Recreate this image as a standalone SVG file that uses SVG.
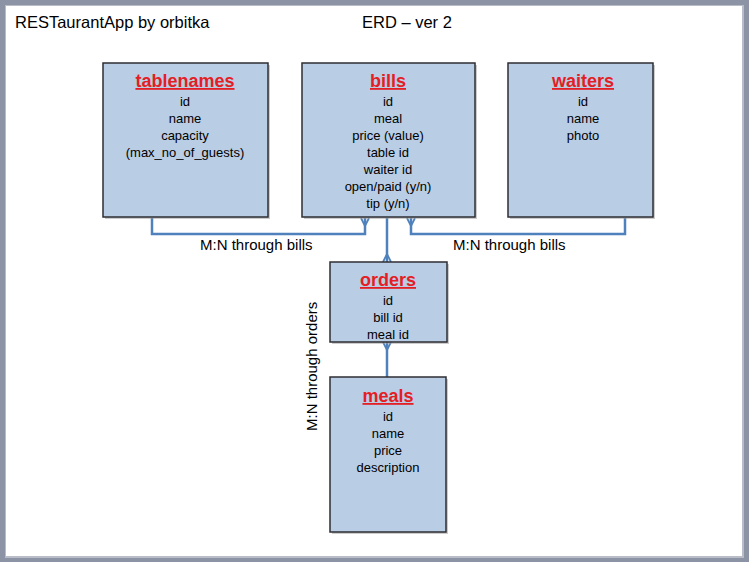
<svg xmlns="http://www.w3.org/2000/svg" width="749" height="562" viewBox="0 0 749 562">
<style>
.box{fill:#b9cde5;stroke:#2e2e33;stroke-width:1.5}
.sh{fill:#9a9a9a;opacity:0.5}
.ttl{font-family:"Liberation Sans",Arial,sans-serif;font-size:18px;font-weight:bold;fill:#e31e24;text-anchor:middle;text-decoration:underline}
.fld{font-family:"Liberation Sans",Arial,sans-serif;font-size:13px;fill:#000;text-anchor:middle}
.hdr{font-family:"Liberation Sans",Arial,sans-serif;font-size:16.5px;fill:#000}
.lbl{font-family:"Liberation Sans",Arial,sans-serif;font-size:15px;fill:#000}
.con{fill:none;stroke:#4f81bd;stroke-width:2.5}
.foot{fill:none;stroke:#4f81bd;stroke-width:1.8}
</style>
<rect x="0" y="0" width="749" height="562" fill="#8b93a5"/>
<rect x="5" y="5" width="739" height="553" fill="#b8bdc8"/>
<rect x="6" y="6" width="736" height="550" fill="#ffffff"/>
<text class="hdr" x="15" y="28">RESTaurantApp by orbitka</text>
<text class="hdr" x="362" y="28">ERD – ver 2</text>

<g id="connectors">
<path class="con" d="M152,218 V234 H365 V218"/>
<path class="foot" d="M361,218 L365,226 L369,218"/>
<path class="con" d="M625,218 V234 H411 V218"/>
<path class="foot" d="M407,218 L411,226 L415,218"/>
<path class="con" d="M387,218 V262"/>
<path class="foot" d="M383,262 L387,254 L391,262"/>
<path class="con" d="M387,342 V377"/>
<path class="foot" d="M383,342 L387,350 L391,342"/>
<text class="lbl" x="200" y="250">M:N through bills</text>
<text class="lbl" x="453" y="250">M:N through bills</text>
<text class="lbl" transform="translate(317,431) rotate(-90)">M:N through orders</text>
</g>

<g id="tablenames">
<rect class="sh" x="105" y="65" width="165" height="154"/>
<rect class="box" x="103" y="63" width="165" height="154"/>
<text class="ttl" x="185" y="87">tablenames</text>
<text class="fld" x="185" y="106">id</text>
<text class="fld" x="185" y="123">name</text>
<text class="fld" x="185" y="140">capacity</text>
<text class="fld" x="185" y="157">(max_no_of_guests)</text>
</g>

<g id="bills">
<rect class="sh" x="304" y="65" width="173" height="154"/>
<rect class="box" x="302" y="63" width="173" height="154"/>
<text class="ttl" x="388" y="87">bills</text>
<text class="fld" x="388" y="106">id</text>
<text class="fld" x="388" y="123">meal</text>
<text class="fld" x="388" y="140">price (value)</text>
<text class="fld" x="388" y="157">table id</text>
<text class="fld" x="388" y="174">waiter id</text>
<text class="fld" x="388" y="191">open/paid (y/n)</text>
<text class="fld" x="388" y="208">tip (y/n)</text>
</g>

<g id="waiters">
<rect class="sh" x="510" y="65" width="145" height="154"/>
<rect class="box" x="508" y="63" width="145" height="154"/>
<text class="ttl" x="583" y="87">waiters</text>
<text class="fld" x="583" y="106">id</text>
<text class="fld" x="583" y="123">name</text>
<text class="fld" x="583" y="140">photo</text>
</g>

<g id="orders">
<rect class="sh" x="332" y="264" width="117" height="80"/>
<rect class="box" x="330" y="262" width="117" height="80"/>
<text class="ttl" x="388" y="286">orders</text>
<text class="fld" x="388" y="305">id</text>
<text class="fld" x="388" y="322">bill id</text>
<text class="fld" x="388" y="339">meal id</text>
</g>

<g id="meals">
<rect class="sh" x="332" y="379" width="116" height="155"/>
<rect class="box" x="330" y="377" width="116" height="155"/>
<text class="ttl" x="388" y="402">meals</text>
<text class="fld" x="388" y="421">id</text>
<text class="fld" x="388" y="438">name</text>
<text class="fld" x="388" y="455">price</text>
<text class="fld" x="388" y="472">description</text>
</g>
</svg>
